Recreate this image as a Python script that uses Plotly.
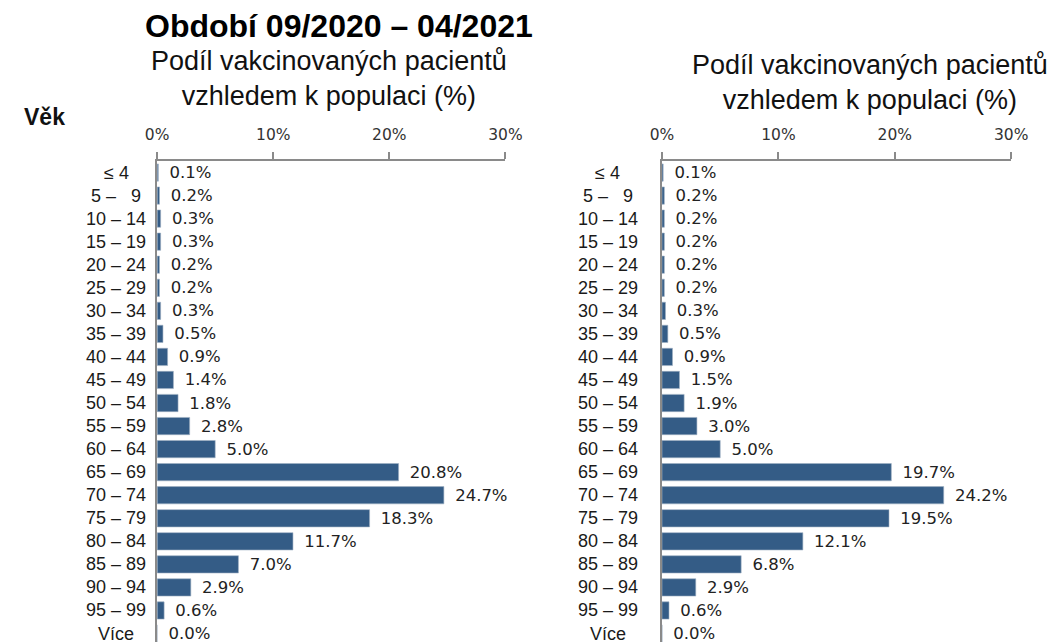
import plotly.graph_objects as go

# ---- data ----
age_groups = ["≤ 4", "5 –\u2007 9", "10 – 14", "15 – 19", "20 – 24", "25 – 29", "30 – 34",
              "35 – 39", "40 – 44", "45 – 49", "50 – 54", "55 – 59", "60 – 64", "65 – 69",
              "70 – 74", "75 – 79", "80 – 84", "85 – 89", "90 – 94", "95 – 99", "Více"]
share_left = [0.1, 0.2, 0.3, 0.3, 0.2, 0.2, 0.3, 0.5, 0.9, 1.4, 1.8, 2.8, 5.0,
              20.8, 24.7, 18.3, 11.7, 7.0, 2.9, 0.6, 0.0]
share_right = [0.1, 0.2, 0.2, 0.2, 0.2, 0.2, 0.3, 0.5, 0.9, 1.5, 1.9, 3.0, 5.0,
               19.7, 24.2, 19.5, 12.1, 6.8, 2.9, 0.6, 0.0]
x_ticks = [0, 10, 20, 30]
x_tick_labels = ["0%", "10%", "20%", "30%"]
title_left = "Období 09/2020 – 04/2021"
subtitle = "Podíl vakcinovaných pacientů<br>vzhledem k populaci (%)"
age_label = "Věk"

# ---- layout constants (screen pixels; page body adds an 8px offset) ----
W, H = 1064, 642
OFF = 8
BAR_COLOR = "#345c86"
AXIS_COLOR = "#8a8a8a"
AX_TOP = 161
PITCH = 23.05


def px_x(x):
    return (x - OFF) / W


def px_y(y):
    return 1 - (y - OFF) / H


y_bottom = (H - (AX_TOP - OFF)) / PITCH - 0.5

fig = go.Figure()

for vals, xa, ya in [(share_left, "x", "y"), (share_right, "x2", "y2")]:
    fig.add_trace(go.Bar(
        x=vals, y=age_groups, orientation="h", xaxis=xa, yaxis=ya,
        marker=dict(color=BAR_COLOR, line=dict(color="#9fb0c2", width=0.6)),
        width=0.75,
        texttemplate="\u2002%{x:.1f}%", textposition="outside",
        textfont=dict(family="DejaVu Sans", size=16.5, color="#222222"),
        constraintext="none", cliponaxis=False,
        hoverinfo="skip", showlegend=False,
    ))

xaxis_common = dict(
    range=[0, 30], side="top", tickmode="array", tickvals=x_ticks, ticktext=x_tick_labels,
    ticks="outside", ticklen=7, tickcolor=AXIS_COLOR, tickwidth=1.5,
    showline=True, linecolor=AXIS_COLOR, linewidth=1.5,
    showgrid=False, zeroline=False, ticklabelstandoff=6,
    tickfont=dict(family="DejaVu Sans", size=15.5, color="#333333"),
    fixedrange=True,
)
yaxis_common = dict(
    type="category", categoryarray=age_groups, range=[y_bottom, -0.5],
    showticklabels=False, ticks="", showline=True, linecolor=AXIS_COLOR,
    linewidth=1.5, showgrid=False, zeroline=False,
    domain=[0, px_y(AX_TOP)], fixedrange=True,
)

fig.update_layout(
    width=W, height=H,
    margin=dict(l=0, r=0, t=0, b=0),
    paper_bgcolor="white", plot_bgcolor="white",
    xaxis=dict(domain=[px_x(149), px_x(507)], anchor="y", **xaxis_common),
    yaxis=dict(anchor="x", **yaxis_common),
    xaxis2=dict(domain=[px_x(668), px_x(1027)], anchor="y2", **xaxis_common),
    yaxis2=dict(anchor="x2", **yaxis_common),
)

annotations = []
# category labels, centred to the left of each panel
for cat in age_groups:
    for xc, yref in [(107, "y"), (612, "y2")]:
        annotations.append(dict(
            x=px_x(xc), xref="paper", y=cat, yref=yref, text=cat,
            showarrow=False, xanchor="center", yanchor="middle",
            font=dict(family="Liberation Sans", size=18, color="#1a1a1a"),
        ))

annotations.append(dict(
    x=px_x(336), y=px_y(26), xref="paper", yref="paper", text="<b>" + title_left + "</b>",
    showarrow=False, xanchor="center", yanchor="middle",
    font=dict(family="Liberation Sans", size=32, color="#000000"),
))
annotations.append(dict(
    x=px_x(326), y=px_y(79), xref="paper", yref="paper", text=subtitle,
    showarrow=False, xanchor="center", yanchor="middle",
    font=dict(family="Liberation Sans", size=27, color="#111111"),
))
annotations.append(dict(
    x=px_x(882), y=px_y(82), xref="paper", yref="paper", text=subtitle,
    showarrow=False, xanchor="center", yanchor="middle",
    font=dict(family="Liberation Sans", size=27, color="#111111"),
))
annotations.append(dict(
    x=px_x(33), y=px_y(117), xref="paper", yref="paper", text="<b>" + age_label + "</b>",
    showarrow=False, xanchor="center", yanchor="middle",
    font=dict(family="Liberation Sans", size=23, color="#111111"),
))

fig.update_layout(annotations=annotations)

fig.write_html("out.html")
